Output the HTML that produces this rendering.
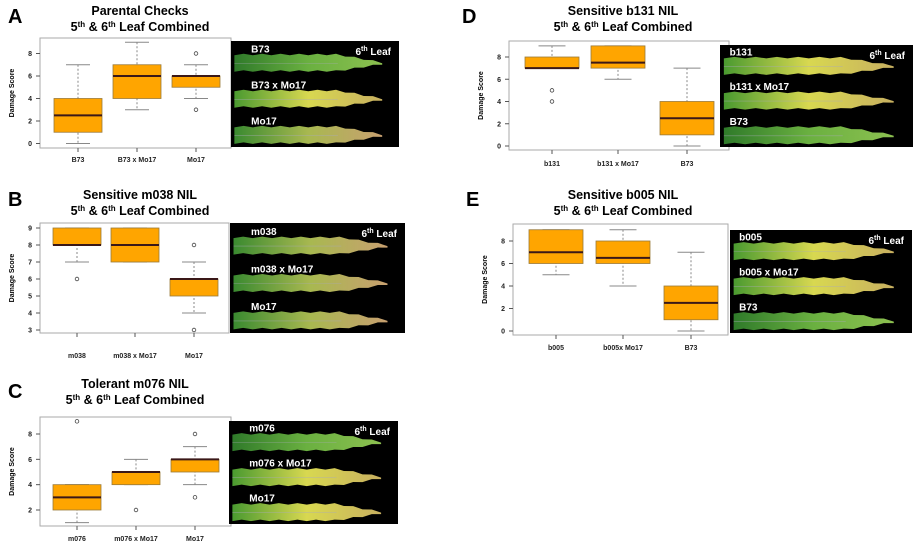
<!DOCTYPE html>
<html><head><meta charset="utf-8"><style>
body{margin:0;background:#fff;width:920px;height:547px;overflow:hidden}
svg{font-family:"Liberation Sans",sans-serif}
</style></head><body>
<svg id="fig" width="920" height="547"></svg>
<script>
// Panel A
const aCats=["B73","B73 x Mo17","Mo17"];
const aLow=[0,3,4], aQ1=[1,4,5], aMed=[2.5,6,6], aQ3=[4,7,6], aHigh=[7,9,7];
const aOut=[[],[],[8,3]];
const aTicks=[0,2,4,6,8];
// Panel B
const bCats=["m038","m038 x Mo17","Mo17"];
const bLow=[7,7,4], bQ1=[8,7,5], bMed=[8,8,6], bQ3=[9,9,6], bHigh=[9,9,7];
const bOut=[[6],[],[8,3]];
const bTicks=[3,4,5,6,7,8,9];
// Panel C
const cCats=["m076","m076 x Mo17","Mo17"];
const cLow=[1,4,4], cQ1=[2,4,5], cMed=[3,5,6], cQ3=[4,5,6], cHigh=[4,6,7];
const cOut=[[9],[2],[8,3]];
const cTicks=[2,4,6,8];
// Panel D
const dCats=["b131","b131 x Mo17","B73"];
const dLow=[7,6,0], dQ1=[7,7,1], dMed=[7,7.5,2.5], dQ3=[8,9,4], dHigh=[9,9,7];
const dOut=[[5,4],[],[]];
const dTicks=[0,2,4,6,8];
// Panel E
const eCats=["b005","b005x Mo17","B73"];
const eLow=[5,4,0], eQ1=[6,6,1], eMed=[7,6.5,2.5], eQ3=[9,8,4], eHigh=[9,9,7];
const eOut=[[],[],[]];
const eTicks=[0,2,4,6,8];

const NS="http://www.w3.org/2000/svg";
const svg=document.getElementById('fig');
function mk(tag,attrs,parent,text){const e=document.createElementNS(NS,tag);for(const k in attrs)e.setAttribute(k,attrs[k]);if(text!==undefined)e.textContent=text;(parent||svg).appendChild(e);return e;}

function panel(cfg){
  const g=mk('g',{});
  
  
  const L=mk('text',{x:cfg.lx,y:cfg.ly,'font-size':20,'font-weight':'bold',fill:'#000'},g,cfg.letter);
  
  
  const t1=mk('text',{x:cfg.tx,y:cfg.ty,'font-size':12.5,'font-weight':'bold','text-anchor':'middle'},g,cfg.title);
  
  
  const t2=mk('text',{x:cfg.tx,y:cfg.ty+16,'font-size':12.5,'font-weight':'bold','text-anchor':'middle'},g);
  
  
  t2.innerHTML='5<tspan dy="-4" font-size="8">th</tspan><tspan dy="4"> &amp; 6</tspan><tspan dy="-4" font-size="8">th</tspan><tspan dy="4"> Leaf Combined</tspan>';
  const fr=mk('rect',{x:cfg.fx0,y:cfg.fy0,width:cfg.fx1-cfg.fx0,height:cfg.fy1-cfg.fy0,fill:'#fff',stroke:'#aaa','stroke-width':1},g);
  
  
  const y=v=>cfg.yA+(v-cfg.vA)*(cfg.yB-cfg.yA)/(cfg.vB-cfg.vA);
  const x=i=>cfg.cx[i];
  cfg.ticks.forEach(v=>{
    mk('line',{x1:cfg.fx0-4,x2:cfg.fx0,y1:y(v),y2:y(v),stroke:'#555'},g);
    const tl=mk('text',{x:cfg.fx0-8,y:y(v)+2.5,'font-size':7,'font-weight':'bold','text-anchor':'end',fill:'#222'},g,String(v));
    
    
  });
  const yt=mk('text',{transform:`translate(${cfg.fx0-26},${(cfg.fy0+cfg.fy1)/2}) rotate(-90)`,'font-size':7,'font-weight':'bold','text-anchor':'middle'},g,'Damage Score');
  
  
  cfg.cats.forEach((c,i)=>{
    mk('line',{x1:x(i),x2:x(i),y1:cfg.fy1,y2:cfg.fy1+4,stroke:'#555'},g);
    const xl=mk('text',{x:x(i),y:cfg.xly,'font-size':7,'font-weight':'bold','text-anchor':'middle',fill:'#222'},g,c);
    
    
    const hw=cfg.hw, bg=mk('g',{},g);
    
    
    mk('line',{x1:x(i),x2:x(i),y1:y(cfg.high[i]),y2:y(cfg.low[i]),stroke:'#888','stroke-dasharray':'2,2'},bg);
    mk('line',{x1:x(i)-hw/2,x2:x(i)+hw/2,y1:y(cfg.high[i]),y2:y(cfg.high[i]),stroke:'#888'},bg);
    mk('line',{x1:x(i)-hw/2,x2:x(i)+hw/2,y1:y(cfg.low[i]),y2:y(cfg.low[i]),stroke:'#888'},bg);
    mk('rect',{x:x(i)-hw,y:y(cfg.q3[i]),width:2*hw,height:Math.max(1,y(cfg.q1[i])-y(cfg.q3[i])),fill:'#FFA500',stroke:'#9a7a3a','stroke-width':0.8},bg);
    mk('line',{x1:x(i)-hw,x2:x(i)+hw,y1:y(cfg.med[i]),y2:y(cfg.med[i]),stroke:'#3a1818','stroke-width':2},bg);
    cfg.out[i].forEach(o=>{
      const p=mk('circle',{cx:x(i),cy:y(o),r:1.8,fill:'none',stroke:'#444','stroke-width':0.8},bg);
      
      
    });
  });
  const ph=mk('g',{},g);
  
  
  const P=cfg.photo, w=P[2]-P[0], h=P[3]-P[1];
  mk('rect',{x:P[0],y:P[1],width:w,height:h,fill:'#000'},ph);
  cfg.leaves.forEach((lf,k)=>{
    const ly=P[1]+h*(0.21+0.34*k);
    const x0=P[0]+w*0.02, x1=P[0]+w*0.9;
    let top='',bot='';
    const n=16;
    for(let j=0;j<=n;j++){const xx=x0+(x1-x0)*j/n;const a=(j<n*0.7?8:8*(n-j)/(n*0.3))+((j%2)?1.5:0);top+=`${xx},${ly-a} `;}
    for(let j=n;j>=0;j--){const xx=x0+(x1-x0)*j/n;const a=(j<n*0.7?7:7*(n-j)/(n*0.3))+((j%2)?0:1.5);bot+=`${xx},${ly+a} `;}
    mk('polygon',{points:top+bot,fill:`url(#${lf})`},ph);
    mk('line',{x1:x0,x2:x1*0.7+x0*0.3,y1:ly,y2:ly,stroke:'#aab',"stroke-width":0.6,opacity:0.6},ph);
    const lt=mk('text',{x:P[0]+w*(cfg.labX||0.12),y:ly-11,'font-size':10,'font-weight':'bold',fill:'#fff'},ph,cfg.plabels[k]);
    
    
  });
  const st=mk('text',{x:P[2]-8,y:P[1]+14,'font-size':10,'font-weight':'bold',fill:'#fff','text-anchor':'end'},ph);
  st.innerHTML='6<tspan dy="-4" font-size="7">th</tspan><tspan dy="4"> Leaf</tspan>';
}
const defs=mk('defs',{});
[['gg','#2f7a2a','#6ab040','#8cc050'],['gy','#4a9a30','#d8d850','#c8b060'],['gt','#3a8a30','#a8b850','#c8a070']].forEach(([id,a,b,c])=>{
  const lg=mk('linearGradient',{id:id,x1:0,x2:1,y1:0,y2:0},defs);
  mk('stop',{offset:0,'stop-color':a},lg);mk('stop',{offset:0.5,'stop-color':b},lg);mk('stop',{offset:1,'stop-color':c},lg);
});

panel({letter:'A',lx:8,ly:23,tx:140,ty:15,title:'Parental Checks',fx0:40,fx1:231,fy0:38,fy1:148,yA:143.5,vA:0,yB:53.5,vB:8,cx:[78,137,196],hw:24,xly:162,
  cats:aCats,low:aLow,q1:aQ1,med:aMed,q3:aQ3,high:aHigh,out:aOut,ticks:aTicks,photo:[231,41,399,147],leaves:['gg','gy','gt'],plabels:['B73','B73 x Mo17','Mo17']});
panel({letter:'B',lx:8,ly:206,tx:140,ty:199,title:'Sensitive m038 NIL',fx0:40,fx1:229,fy0:223,fy1:333,yA:228,vA:9,yB:330,vB:3,cx:[77,135,194],hw:24,xly:358,
  cats:bCats,low:bLow,q1:bQ1,med:bMed,q3:bQ3,high:bHigh,out:bOut,ticks:bTicks,photo:[230,223,405,333],leaves:['gt','gt','gt'],plabels:['m038','m038 x Mo17','Mo17']});
panel({letter:'C',lx:8,ly:398,tx:135,ty:388,title:'Tolerant m076 NIL',fx0:40,fx1:231,fy0:417,fy1:526,yA:434,vA:8,yB:510,vB:2,cx:[77,136,195],hw:24,xly:541,
  cats:cCats,low:cLow,q1:cQ1,med:cMed,q3:cQ3,high:cHigh,out:cOut,ticks:cTicks,photo:[229,421,398,524],leaves:['gg','gy','gy'],plabels:['m076','m076 x Mo17','Mo17']});
panel({letter:'D',lx:462,ly:23,tx:623,ty:15,title:'Sensitive b131 NIL',fx0:509,fx1:729,fy0:41,fy1:150,yA:146,vA:0,yB:57,vB:8,cx:[552,618,687],hw:27,xly:166,
  cats:dCats,low:dLow,q1:dQ1,med:dMed,q3:dQ3,high:dHigh,out:dOut,ticks:dTicks,photo:[720,45,913,147],leaves:['gy','gy','gg'],plabels:['b131','b131 x Mo17','B73'],labX:0.05});
panel({letter:'E',lx:466,ly:206,tx:623,ty:199,title:'Sensitive b005 NIL',fx0:513,fx1:728,fy0:224,fy1:335,yA:331,vA:0,yB:241,vB:8,cx:[556,623,691],hw:27,xly:350,
  cats:eCats,low:eLow,q1:eQ1,med:eMed,q3:eQ3,high:eHigh,out:eOut,ticks:eTicks,photo:[730,230,912,333],leaves:['gy','gy','gg'],plabels:['b005','b005 x Mo17','B73'],labX:0.05});
</script>
</body></html>
